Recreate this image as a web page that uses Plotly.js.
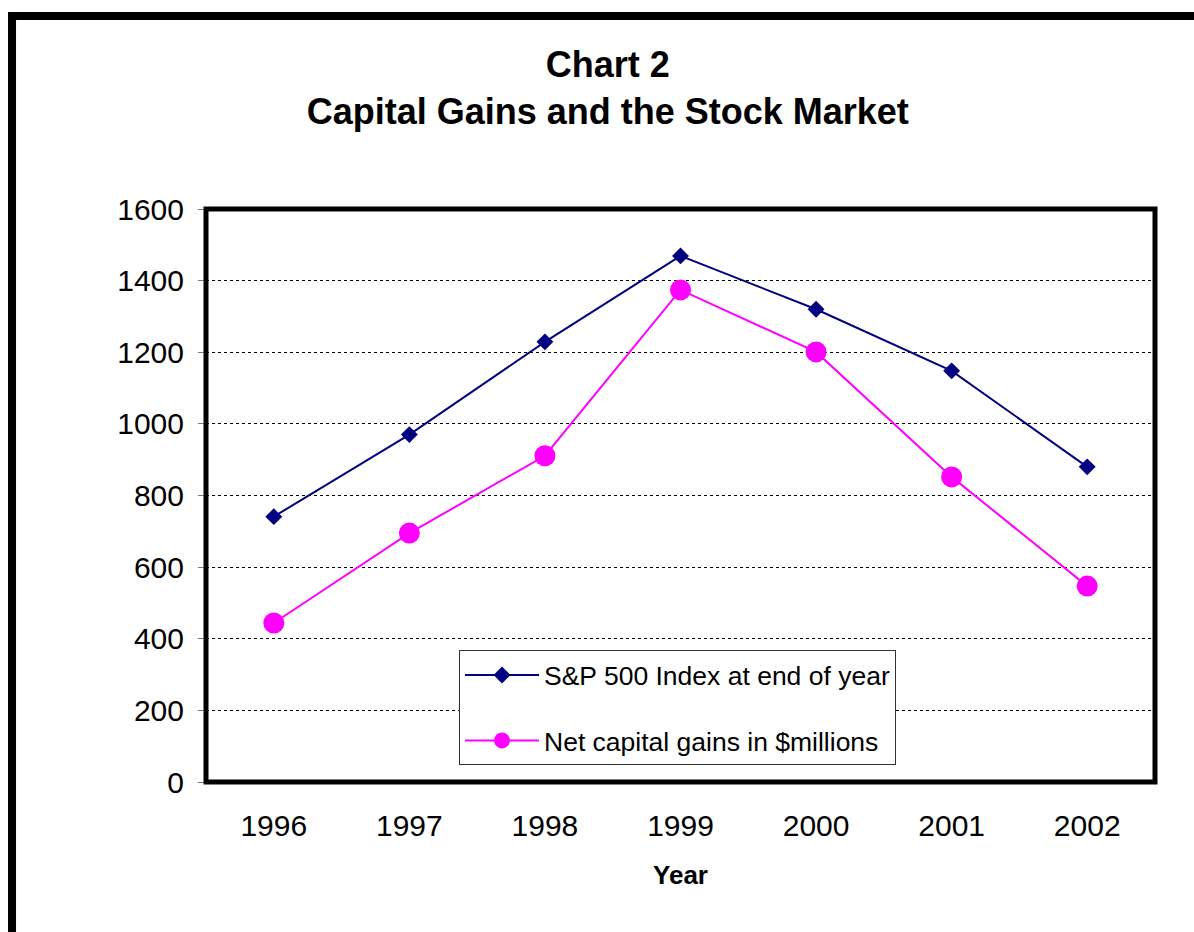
<!DOCTYPE html>
<html><head><meta charset="utf-8">
<script src="https://cdn.plot.ly/plotly-3.0.1.min.js"></script>
<style>html,body{margin:0;padding:0;background:#fff;}#chart{width:1194px;height:932px;}</style>
</head><body><div id="chart"></div>
<script>
const years = ['1996','1997','1998','1999','2000','2001','2002'];
const sp500 = [741, 970, 1229, 1469, 1320, 1148, 880];
const netGains = [444, 695, 911, 1374, 1201, 852, 547];
const seriesNames = ['S&P 500 Index at end of year', 'Net capital gains in $millions'];
const yTicks = [0, 200, 400, 600, 800, 1000, 1200, 1400, 1600];

const font = 'Liberation Sans, Arial, sans-serif';
const traces = [
  {x: years, y: sp500, name: seriesNames[0], type: 'scatter', mode: 'lines+markers',
   legendgroup: 'a',
   line: {color: '#000080', width: 2}, marker: {symbol: 'diamond', size: 13, color: '#000080'}},
  {x: years, y: netGains, name: seriesNames[1], type: 'scatter', mode: 'lines+markers',
   legendgroup: 'b',
   line: {color: '#FF00FF', width: 2}, marker: {symbol: 'circle', size: 21, color: '#FF00FF'}}
];
const layout = {
  width: 1194, height: 932,
  paper_bgcolor: '#fff', plot_bgcolor: '#fff',
  margin: {l: 206, r: 39, t: 209, b: 150},
  title: {text: '<b>Chart 2<br>Capital Gains and the Stock Market</b>', x: 0.509, xanchor: 'center', y: 0.917, yanchor: 'top',
          font: {family: font, size: 36, color: '#000'}},
  font: {family: font, color: '#000'},
  xaxis: {type: 'category', range: [-0.5, 6.5], tickfont: {size: 30}, ticks: '', showgrid: false,
          ticklabelstandoff: 23,
          showline: false, title: {text: '<b>Year</b>', font: {size: 26}, standoff: 24}, zeroline: false},
  yaxis: {range: [0, 1600], tickvals: yTicks, ticktext: yTicks.map(String), tickfont: {size: 30},
          ticks: 'outside', ticklen: 7, tickcolor: '#777', tickwidth: 1, ticklabelstandoff: 8,
          showgrid: true, gridcolor: '#000', gridwidth: 1, griddash: 'dot',
          showline: false, zeroline: false},
  legend: {x: 0.2666, y: 0.230, xanchor: 'left', yanchor: 'top', bgcolor: '#fff',
           bordercolor: '#333', borderwidth: 1, font: {size: 26.5, family: font},
           traceorder: 'grouped', tracegroupgap: 28, itemwidth: 74},
  showlegend: true,
  shapes: [
    {type: 'rect', xref: 'paper', yref: 'paper', x0: 0, x1: 1, y0: 0, y1: 1,
     line: {color: '#000', width: 5}, fillcolor: 'rgba(0,0,0,0)', layer: 'above'},
    {type: 'rect', xref: 'paper', yref: 'paper', x0: -0.2044, x1: 1.2, y0: -0.4, y1: 1.3368,
     line: {color: '#000', width: 8}, fillcolor: 'rgba(0,0,0,0)', layer: 'below'}
  ]
};
Plotly.newPlot('chart', traces, layout, {displayModeBar: false, staticPlot: true});
</script></body></html>
